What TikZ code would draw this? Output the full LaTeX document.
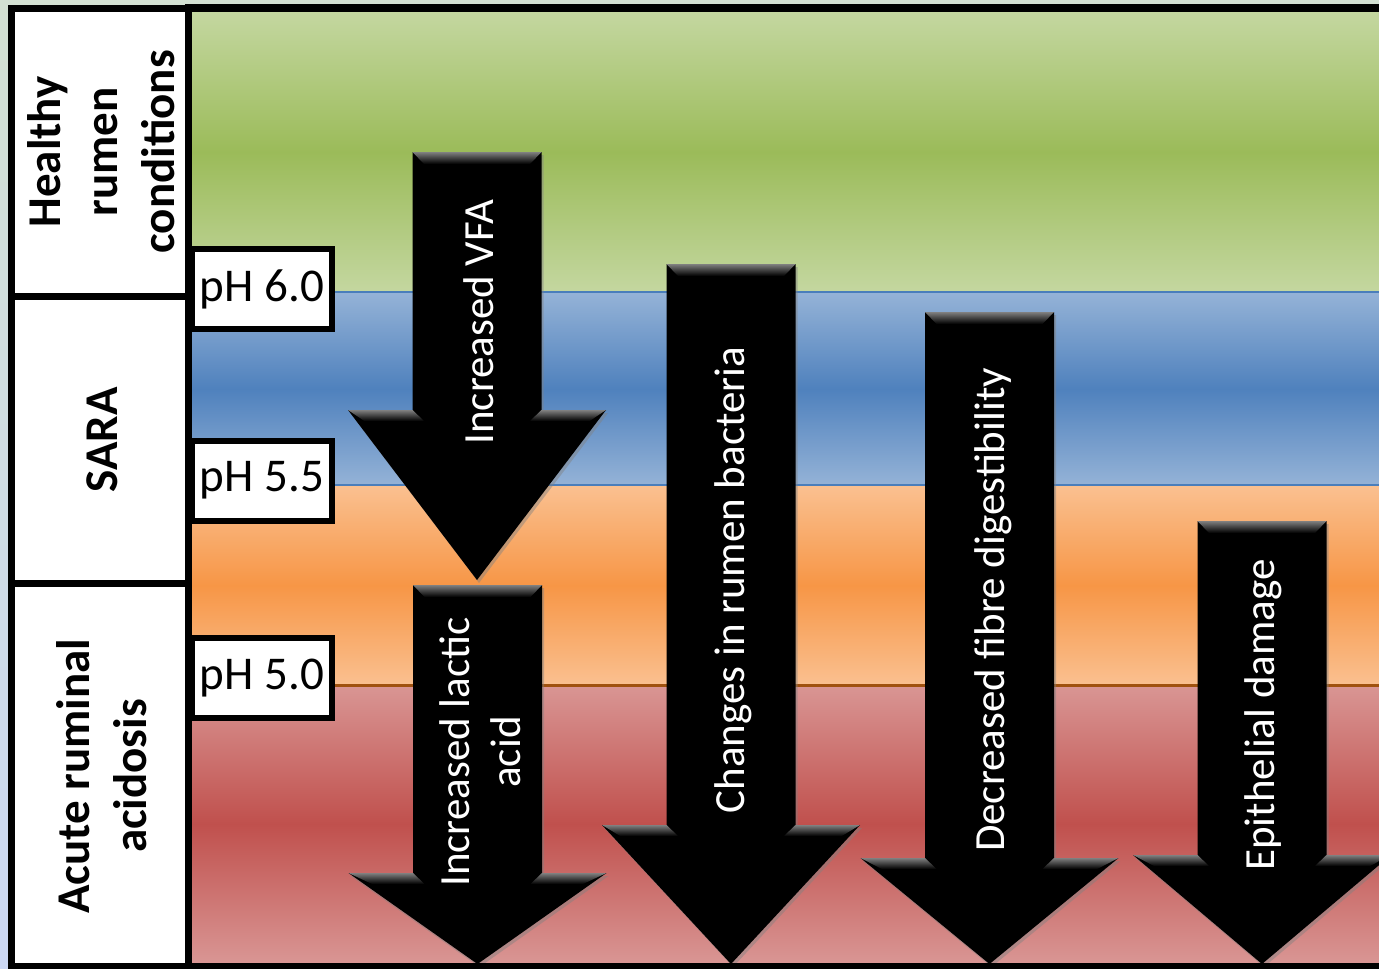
\documentclass[tikz,border=0pt]{standalone}
\usepackage{fontspec}
\setmainfont{Carlito}
\usetikzlibrary{shadows}
\definecolor{bgTop}{HTML}{D3E0D2}
\definecolor{bgBot}{HTML}{CCD8F4}
\definecolor{gL}{HTML}{C4D7A0}
\definecolor{gD}{HTML}{9BBB59}
\definecolor{bL}{HTML}{95B3D7}
\definecolor{bD}{HTML}{4F81BD}
\definecolor{oL}{HTML}{FAC090}
\definecolor{oD}{HTML}{F79646}
\definecolor{rL}{HTML}{D99694}
\definecolor{rD}{HTML}{C0504D}
\definecolor{bLine}{HTML}{4A7EBB}
\definecolor{oLine}{HTML}{A0520F}
\newcommand\ArrowShape[4]{%
  \fill[black, drop shadow={shadow xshift=2pt,shadow yshift=-3pt,opacity=0.45}]
    ({#1-64.5},#2) -- ({#1+64.5},#2) -- ({#1+64.5},#3) -- ({#1+129},#3) --
    (#1,#4) -- ({#1-129},#3) -- ({#1-64.5},#3) -- cycle;
  \shade[top color=black!50, bottom color=black]
    ({#1-64.5},#2) -- ({#1+64.5},#2) -- ({#1+53},{#2+12}) -- ({#1-53},{#2+12}) -- cycle;
  \shade[top color=black!50, bottom color=black]
    ({#1-129},#3) -- ({#1-64.5},#3) -- ({#1-53},{#3+11}) --
    ({#1-129+1419/(#4-#3)+8},{#3+11}) -- cycle;
  \shade[top color=black!50, bottom color=black]
    ({#1+129},#3) -- ({#1+64.5},#3) -- ({#1+53},{#3+11}) --
    ({#1+129-1419/(#4-#3)-8},{#3+11}) -- cycle;
}
\tikzset{
  phbox/.style={draw=black, fill=white, line width=6pt, minimum width=140pt,
    minimum height=80pt, inner sep=0pt, font=\fontsize{47}{56}\selectfont},
  cellbox/.style={draw=black, fill=white, line width=7pt},
  zonelabel/.style={rotate=90, align=center, inner sep=0pt,
    font=\bfseries\fontsize{47}{57}\selectfont},
  arrowtext/.style={rotate=90, align=center, text=white, inner sep=0pt,
    font=\fontsize{43}{51}\selectfont},
}
\begin{document}
\begin{tikzpicture}[x=1pt, y=-1pt]
\useasboundingbox (0,0) rectangle (1379,969);
\clip (0,0) rectangle (1379,969);
% background
\shade[top color=bgTop, bottom color=bgBot] (0,0) rectangle (1379,969);
% bands
\shade[top color=gL, bottom color=gL, middle color=gD] (192,12) rectangle (1379,292);
\shade[top color=bL, bottom color=bL, middle color=bD] (192,292) rectangle (1379,486);
\shade[top color=oL, bottom color=oL, middle color=oD] (192,486) rectangle (1379,685);
\shade[top color=rL, bottom color=rL, middle color=rD] (192,685) rectangle (1379,963);
\draw[bLine, line width=2pt] (192,292) -- (1379,292);
\draw[bLine, line width=2pt] (192,485) -- (1379,485);
\draw[oLine, line width=3pt] (192,685) -- (1379,685);
% arrows
\ArrowShape{477}{152}{410}{580}
\ArrowShape{477.5}{585}{873}{964}
\ArrowShape{731}{264}{825}{964}
\ArrowShape{989.5}{312}{858}{964}
\ArrowShape{1262}{521}{855}{964}
\node[arrowtext] (vfa) at (479,322) {Increased VFA};
\node[arrowtext] (lactic) at (480,752) {Increased lactic\\acid};
\node[arrowtext] (bact) at (733,580) {Changes in rumen bacteria};
\node[arrowtext] (fibre) at (993,610) {Decreased fibre digestibility};
\node[arrowtext] (epi) at (1263,715) {Epithelial damage};
% pH boxes
\node[phbox] (ph60) at (262,289) {pH 6.0};
\node[phbox] (ph55) at (262,480.5) {pH 5.5};
\node[phbox] (ph50) at (262,678) {pH 5.0};
% left column
\draw[cellbox] (11.5,8.5) rectangle (188.5,296);
\draw[cellbox] (11.5,296) rectangle (188.5,583.5);
\draw[cellbox] (11.5,583.5) rectangle (188.5,966);
\node[zonelabel] (healthy) at (101,152) {Healthy\\rumen\\conditions};
\node[zonelabel] (sara) at (102,440) {SARA};
\node[zonelabel] (acute) at (102,776) {Acute ruminal\\acidosis};
% frame lines
\draw[black, line width=8pt] (185,8) -- (1379,8);
\draw[black, line width=6pt] (185,966) -- (1379,966);
\end{tikzpicture}
\end{document}
